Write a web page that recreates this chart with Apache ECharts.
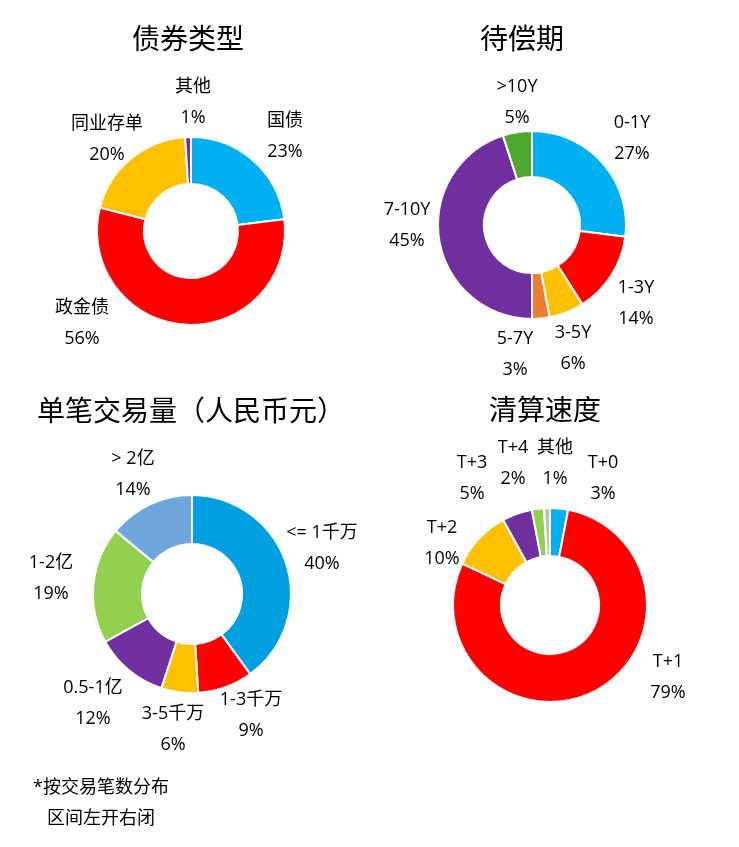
<!DOCTYPE html>
<html>
<head>
<meta charset="utf-8">
<script src="https://cdn.jsdelivr.net/npm/echarts@6/dist/echarts.min.js"></script>
<style>
html,body{margin:0;padding:0;background:#fff;}
#main{width:739px;height:847px;}
</style>
</head>
<body>
<div id="main"></div>
<script>
// ---- data ----
const titles = ['债券类型', '待偿期', '单笔交易量（人民币元）', '清算速度'];

const bondTypeNames = ['国债', '政金债', '同业存单', '其他'];
const bondTypeValues = [23, 56, 20, 1];

const maturityNames = ['0-1Y', '1-3Y', '3-5Y', '5-7Y', '7-10Y', '>10Y'];
const maturityValues = [27, 14, 6, 3, 45, 5];

const sizeNames = ['<= 1千万', '1-3千万', '3-5千万', '0.5-1亿', '1-2亿', '> 2亿'];
const sizeValues = [40, 9, 6, 12, 19, 14];

const settleNames = ['T+0', 'T+1', 'T+2', 'T+3', 'T+4', '其他'];
const settleValues = [3, 79, 10, 5, 2, 1];

const footnoteLines = ['*按交易笔数分布', '区间左开右闭'];

// ---- styles / layout ----
const FONT = '"Open Sans", "Noto Sans CJK SC", sans-serif';
const TFONT = '"Noto Sans CJK SC", sans-serif';
const colors = [
  ['#00B0F0', '#FF0000', '#FFC000', '#7030A0'],
  ['#00B0F0', '#FF0000', '#FFC000', '#ED7D31', '#7030A0', '#4EA72E'],
  ['#00A0E0', '#FF0000', '#FFC000', '#7030A0', '#92D050', '#70A6DE'],
  ['#00B0F0', '#FF0000', '#FFC000', '#7030A0', '#92D050', '#BFBFBF']
];
const pies = [
  {center: [191, 231], radius: [47, 94]},
  {center: [532, 225], radius: [48, 94]},
  {center: [192, 594], radius: [50, 99]},
  {center: [550, 605], radius: [49, 97]}
];
const titlePos = [[188, 38], [522, 38], [191, 410], [545, 409]];
// label block centres (pixel layout of the annotation text)
const labelPos = [
  [[285, 136], [82, 323], [107, 139], [193, 102]],
  [[632, 138], [636, 303], [573, 348], [515, 354], [407, 225], [517, 102]],
  [[322, 548], [251, 715], [173, 729], [93, 703], [51, 578], [133, 474]],
  [[603, 478], [668, 677], [442, 543], [472, 478], [513, 463], [555, 463]]
];
const footPos = [[33, 788], [47, 819]];

const datasets = [
  [bondTypeNames, bondTypeValues],
  [maturityNames, maturityValues],
  [sizeNames, sizeValues],
  [settleNames, settleValues]
];

const chart = echarts.init(document.getElementById('main'));

const series = datasets.map(function (d, i) {
  return {
    type: 'pie',
    center: pies[i].center,
    radius: pies[i].radius,
    startAngle: 90,
    clockwise: true,
    avoidLabelOverlap: false,
    silent: true,
    animation: false,
    itemStyle: {borderColor: '#fff', borderWidth: 2},
    label: {
      show: true,
      position: 'outside',
      formatter: '{b}\n{c}%',
      fontFamily: FONT,
      fontSize: 18,
      lineHeight: 31,
      color: '#000',
      align: 'center'
    },
    labelLine: {show: false},
    labelLayout: function (p) {
      const pos = labelPos[i][p.dataIndex];
      return {x: pos[0], y: pos[1], align: 'center', verticalAlign: 'middle', hideOverlap: false};
    },
    data: d[0].map(function (n, k) {
      return {name: n, value: d[1][k], itemStyle: {color: colors[i][k]}};
    })
  };
});

const titleGraphics = titles.map(function (t, i) {
  return {
    type: 'text',
    x: titlePos[i][0],
    y: titlePos[i][1],
    style: {text: t, fontFamily: TFONT, fontSize: 28, fill: '#000', align: 'center', verticalAlign: 'middle'}
  };
});
const footGraphics = footnoteLines.map(function (t, k) {
  return {
    type: 'text',
    x: footPos[k][0],
    y: footPos[k][1],
    style: {text: t, fontFamily: FONT, fontSize: 18, fill: '#000', verticalAlign: 'middle'}
  };
});

chart.setOption({
  backgroundColor: '#fff',
  graphic: titleGraphics.concat(footGraphics),
  series: series
});
</script>
</body>
</html>
